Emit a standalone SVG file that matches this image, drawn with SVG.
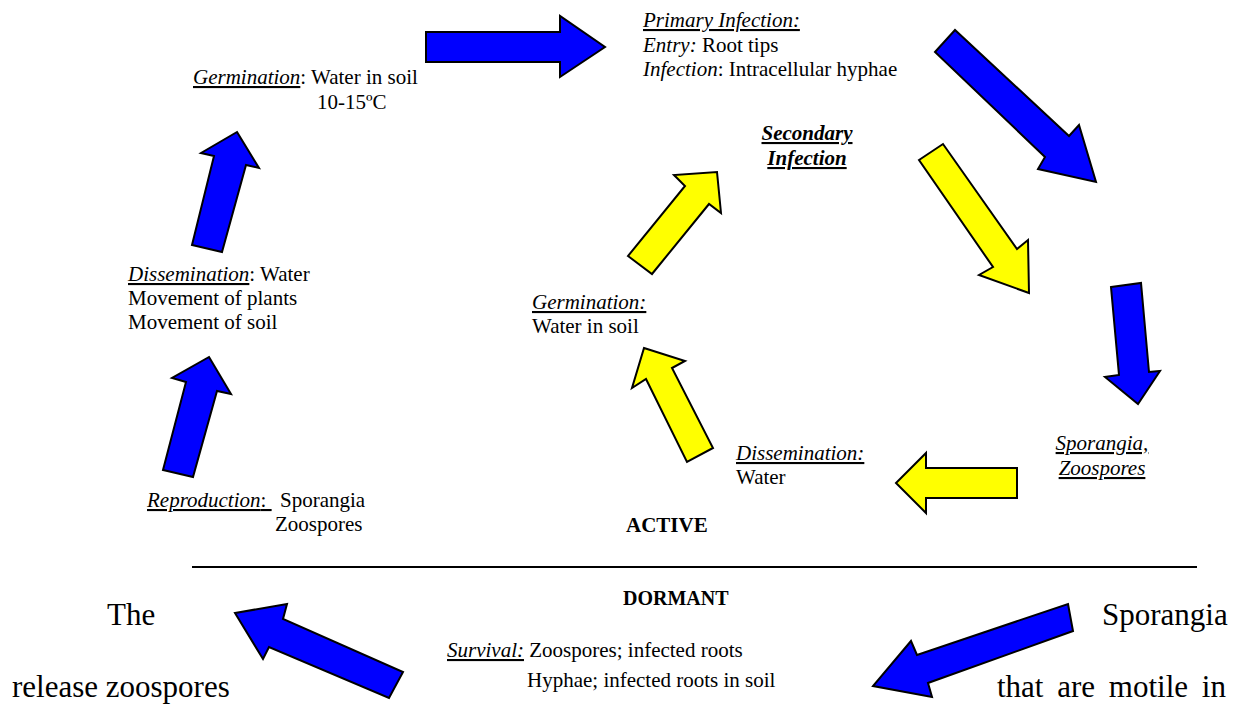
<svg xmlns="http://www.w3.org/2000/svg" width="1238" height="704" viewBox="0 0 1238 704">
<style>
text{font-family:"Liberation Serif","Times New Roman",serif;font-size:21px;fill:#000}
.i{font-style:italic}
.u{text-decoration:underline}
.b{font-weight:bold}
.big{font-size:31px}
.blue{fill:#0000FF;stroke:#000;stroke-width:2;stroke-linejoin:miter}
.yel{fill:#FFFF00;stroke:#000;stroke-width:2;stroke-linejoin:miter}
</style>
<rect width="1238" height="704" fill="#fff"/>
<g id="connectors">
<polygon class="blue" points="426,32 560,32 560,16 605,47 560,77 560,62 426,62"/>
<polygon class="blue" points="935,52 955,30 1069,136 1079,125 1096,182 1038,169 1045,157"/>
<polygon class="yel" points="919,160 943,144 1017,249 1028,240 1029,293 979,275 993,267"/>
<polygon class="blue" points="1111,287 1141,283 1149,372 1160,371 1138,404 1105,377 1119,375"/>
<polygon class="yel" points="1017,468 926,468 926,453 896,483 926,513 926,498 1017,498"/>
<polygon class="yel" points="644,348 685,361 672,368 713,448 687,462 646,379 632,388"/>
<polygon class="yel" points="628,256 652,274 709,204 721,213 717,172 674,175 685,186"/>
<polygon class="blue" points="237,132 259,168 246,165 222,252 192,245 214,156 201,153"/>
<polygon class="blue" points="209,357 231,394 217,391 193,477 163,470 186,382 172,378"/>
<polygon class="blue" points="235,613 287,604 283,619 403,672 389,698 269,647 263,659"/>
<polygon class="blue" points="1068,604 1073,631 928,683 932,697 873,686 911,641 917,655"/>
<line x1="192" y1="567" x2="1197" y2="567" stroke="#000" stroke-width="2"/>
</g>
<g id="germination-top">
<text x="193" y="84"><tspan class="i u">Germination</tspan>: Water in soil</text>
<text x="317" y="109">10-15ºC</text>
</g>
<g id="primary-infection">
<text x="643" y="27" class="i u">Primary Infection:</text>
<text x="643" y="51.5"><tspan class="i">Entry:</tspan> Root tips</text>
<text x="643" y="76"><tspan class="i">Infection</tspan>: Intracellular hyphae</text>
</g>
<g id="secondary-infection">
<text x="807" y="140" text-anchor="middle" class="b i u">Secondary</text>
<text x="807" y="165" text-anchor="middle" class="b i u">Infection</text>
</g>
<g id="dissemination-left">
<text x="128" y="281"><tspan class="i u">Dissemination</tspan>: Water</text>
<text x="128" y="305">Movement of plants</text>
<text x="128" y="329">Movement of soil</text>
</g>
<g id="reproduction">
<text x="147" y="507"><tspan class="i u">Reproduction</tspan><tspan class="u">: </tspan><tspan x="280">Sporangia</tspan></text>
<text x="275" y="531">Zoospores</text>
</g>
<g id="germination-mid">
<text x="532" y="309" class="i u">Germination:</text>
<text x="532" y="333">Water in soil</text>
</g>
<g id="dissemination-mid">
<text x="736" y="460" class="i u">Dissemination:</text>
<text x="736" y="484">Water</text>
</g>
<g id="sporangia-zoospores">
<text x="1102" y="450" text-anchor="middle" class="i u">Sporangia,</text>
<text x="1102" y="475" text-anchor="middle" class="i u">Zoospores</text>
</g>
<g id="active"><text x="626" y="532" class="b">ACTIVE</text></g>
<g id="dormant"><text x="623" y="605" class="b" style="font-size:20px">DORMANT</text></g>
<g id="survival">
<text x="447" y="657"><tspan class="i u">Survival:</tspan> Zoospores; infected roots</text>
<text x="527" y="687">Hyphae; infected roots in soil</text>
</g>
<g id="caption">
<text x="107" y="625" class="big">The</text>
<text x="1102" y="625" class="big">Sporangia</text>
<text x="12" y="697" class="big">release zoospores</text>
<text x="997" y="697" class="big" style="word-spacing:6px">that are motile in</text>
</g>
</svg>
